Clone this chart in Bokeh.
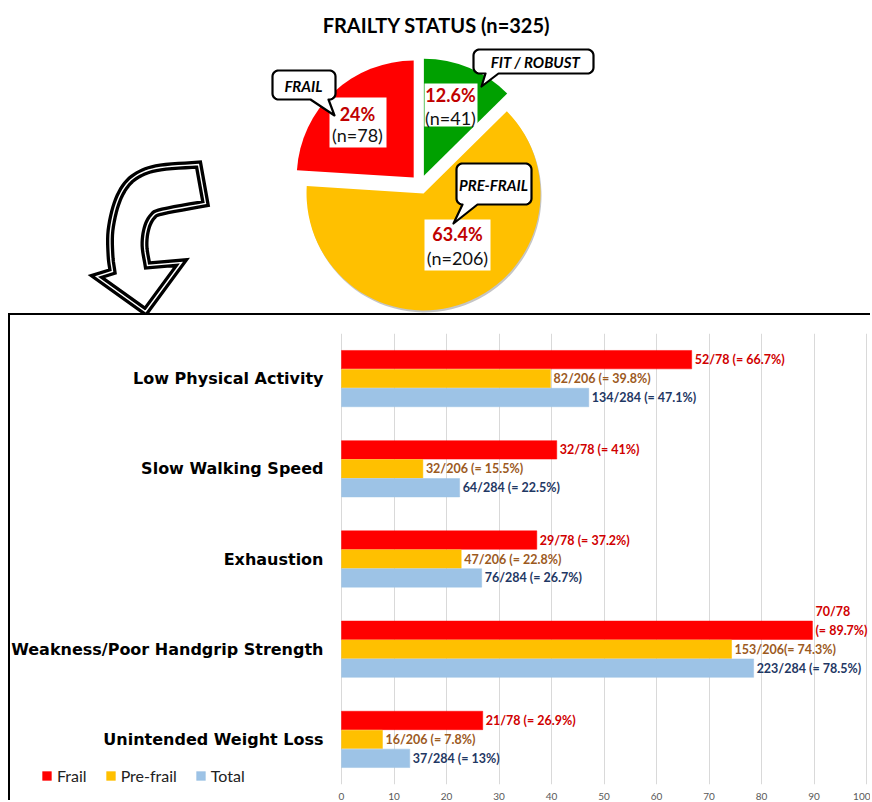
import numpy as np
from bokeh.plotting import figure
from bokeh.models import (ColumnDataSource, FactorRange, Range1d, FixedTicker,
                          Legend, LegendItem, CDSView, IndexFilter)
from bokeh.transform import dodge
from bokeh.layouts import column
from bokeh.core.properties import value
from bokeh.embed import file_html
from bokeh.resources import INLINE

# ---------------- data ----------------
pie_labels = ["FIT / ROBUST", "PRE-FRAIL", "FRAIL"]
pie_counts = [41, 206, 78]
pie_pct_text = ["12.6%", "63.4%", "24%"]
pie_n_text = ["(n=41)", "(n=206)", "(n=78)"]
pie_colors = ["#00A000", "#FFC000", "#FF0000"]
title_text = "FRAILTY STATUS (n=325)"

categories = ["Low Physical Activity", "Slow Walking Speed", "Exhaustion",
              "Weakness/Poor Handgrip Strength", "Unintended Weight Loss"]
frail_pct = [66.7, 41.0, 37.2, 89.7, 26.9]
prefrail_pct = [39.8, 15.5, 22.8, 74.3, 7.8]
total_pct = [47.1, 22.5, 26.7, 78.5, 13.0]
frail_lbl = ["52/78 (= 66.7%)", "32/78 (= 41%)", "29/78 (= 37.2%)",
             "70/78\n(= 89.7%)", "21/78 (= 26.9%)"]
prefrail_lbl = ["82/206 (= 39.8%)", "32/206 (= 15.5%)", "47/206 (= 22.8%)",
                "153/206(= 74.3%)", "16/206 (= 7.8%)"]
total_lbl = ["134/284 (= 47.1%)", "64/284 (= 22.5%)", "76/284 (= 26.7%)",
             "223/284 (= 78.5%)", "37/284 (= 13%)"]
series_names = ["Frail", "Pre-frail", "Total"]
series_colors = ["#FF0000", "#FFC000", "#9DC3E6"]
label_colors = ["#D00000", "#9C5A1E", "#1F3864"]
x_ticks = [0, 10, 20, 30, 40, 50, 60, 70, 80, 90, 100]

# ---------------- top figure (pie) ----------------
W = 872
H1 = 313


def X(rx):
    return rx


def Y(ry):
    return H1 - ry


top = figure(width=W, height=H1, x_range=Range1d(0, W), y_range=Range1d(0, H1),
             x_axis_type=None, y_axis_type=None, output_backend="svg",
             toolbar_location=None, min_border=0)
top.grid.visible = False
top.outline_line_color = None

counts = np.array(pie_counts, dtype=float)
frac = counts / counts.sum()
cum = np.concatenate([[0.0], np.cumsum(frac)])
start_a = np.pi / 2 - 2 * np.pi * cum[:-1]
end_a = np.pi / 2 - 2 * np.pi * cum[1:]
mid_a = (start_a + end_a) / 2
cx0, cy0 = X(419.7), Y(184.0)
explode = 9.5
R = 117
px = cx0 + explode * np.cos(mid_a)
py = cy0 + explode * np.sin(mid_a)
pie_src = ColumnDataSource(dict(x=px, y=py, sx=px + 1.0, sy=py - 2.0, start=start_a,
                                end=end_a, color=pie_colors))
# soft shadow under the large slice only
top.wedge(x="sx", y="sy", radius=R, radius_units="screen", start_angle="start",
          end_angle="end", direction="clock", fill_color="#7F7F7F", fill_alpha=0.45,
          line_color=None, source=pie_src, view=CDSView(filter=IndexFilter([1])))
top.wedge(x="x", y="y", radius=R, radius_units="screen", start_angle="start",
          end_angle="end", direction="clock", fill_color="color", line_color=None,
          source=pie_src)

# white label boxes and value labels (order: fit, pre-frail, frail)
box_c = [(450.5, 104.5, 53, 43), (457, 244.5, 66, 51), (357.5, 122, 57, 50)]
pct_pos = [(450, 94), (457, 233), (357, 113)]
n_pos = [(450, 117), (457, 257), (357, 134)]
top.rect(x=[X(b[0]) for b in box_c], y=[Y(b[1]) for b in box_c],
         width=[b[2] for b in box_c], height=[b[3] for b in box_c],
         fill_color="white", line_color=None)
top.text(x=[X(p[0]) for p in pct_pos], y=[Y(p[1]) for p in pct_pos], text=pie_pct_text,
         text_font=value("Lato"), text_font_style="bold", text_font_size="18px",
         text_color="#C00000", text_align="center", text_baseline="middle")
top.text(x=[X(p[0]) for p in n_pos], y=[Y(p[1]) for p in n_pos], text=pie_n_text,
         text_font=value("Lato"), text_font_size="18px",
         text_color="#111111", text_align="center", text_baseline="middle")


def bubble(x0, y0, x1, y1, tail_a, tail_b, tip, r=6, n=7):
    pts = []

    def arc(cx, cy, a0, a1):
        for t in np.linspace(a0, a1, n):
            pts.append((cx + r * np.cos(t), cy + r * np.sin(t)))
    arc(x0 + r, y0 + r, np.pi, 1.5 * np.pi)
    arc(x1 - r, y0 + r, 1.5 * np.pi, 2 * np.pi)
    arc(x1 - r, y1 - r, 0, 0.5 * np.pi)
    pts += [(tail_b, y1), tip, (tail_a, y1)]
    arc(x0 + r, y1 - r, 0.5 * np.pi, np.pi)
    return [X(p[0]) for p in pts], [Y(p[1]) for p in pts]


bubbles = [
    ((473, 49, 593, 73), (485, 498), (481, 86), (535, 61)),
    ((456, 163, 531, 204), (462, 477), (453, 223), (493, 184)),
    ((272, 70, 335, 99), (310, 328), (334, 115), (303, 85)),
]
bx, by = [], []
for (bb, base, tip, _) in bubbles:
    xs, ys = bubble(bb[0], bb[1], bb[2], bb[3], base[0], base[1], tip)
    bx.append(xs)
    by.append(ys)
top.patches(xs=bx, ys=by, fill_color="white", line_color="black", line_width=2.2,
            line_join="round")
top.text(x=[X(b[3][0]) for b in bubbles], y=[Y(b[3][1]) for b in bubbles],
         text=pie_labels, text_font=value("Lato"), text_font_style="bold italic",
         text_font_size="15px", text_color="black", text_align="center",
         text_baseline="middle")

# title
top.text(x=[X(436)], y=[Y(24)], text=[title_text], text_font=value("Lato"),
         text_font_style="bold", text_font_size="20px", text_color="black",
         text_align="center", text_baseline="middle")


# curved hollow arrow
def catmull(points, n=6):
    pts = np.array(points, dtype=float)
    ext = np.vstack([pts[0] * 2 - pts[1], pts, pts[-1] * 2 - pts[-2]])
    out = []
    for i in range(1, len(ext) - 2):
        p0, p1, p2, p3 = ext[i - 1], ext[i], ext[i + 1], ext[i + 2]
        for t in np.linspace(0, 1, n, endpoint=False):
            t2, t3 = t * t, t * t * t
            out.append(0.5 * ((2 * p1) + (-p0 + p2) * t +
                              (2 * p0 - 5 * p1 + 4 * p2 - p3) * t2 +
                              (-p0 + 3 * p1 - 3 * p2 + p3) * t3))
    out.append(pts[-1])
    return out


outer = [(198, 164), (160, 167), (140, 173), (126, 184), (116, 203), (110, 230),
         (110, 255), (112, 271)]
inner = [(205, 203), (162, 211), (152, 216), (146, 228), (144, 245), (147, 265)]
head = [(181, 262), (145, 311), (96, 276)]
poly = [outer[0]] + catmull(inner) + head + catmull(outer[::-1])
ax = [X(p[0]) for p in poly]
ay = [Y(p[1]) for p in poly]
top.patch(x=ax, y=ay, fill_color="white", line_color="black", line_width=8,
          line_join="miter")
top.patch(x=ax, y=ay, fill_alpha=0, line_color="white", line_width=1.4,
          line_join="miter")

# ---------------- bottom figure (bars) ----------------
BOX_LEFT = 10          # page x of the boxed panel's canvas
ZERO_X = 341           # page x of the value 0
PX_PER_UNIT = 5.25
W2 = W - BOX_LEFT
H2 = 802 - H1 - 2
x_start = -(ZERO_X - BOX_LEFT) / PX_PER_UNIT
x_end = (W - ZERO_X) / PX_PER_UNIT

bot = figure(width=W2, height=H2, y_range=FactorRange(*categories[::-1]),
             x_range=Range1d(x_start, x_end), y_axis_type=None,
             output_backend="svg", toolbar_location=None,
             min_border_left=0, min_border_right=0, min_border_top=18,
             min_border_bottom=0)
bot.outline_line_color = None
bot.styles = {"margin-left": "8px",
              "border-top": "2px solid black", "border-left": "2px solid black"}

src = ColumnDataSource(dict(cat=categories, frail=frail_pct, prefrail=prefrail_pct,
                            total=total_pct, fl=frail_lbl, pl=prefrail_lbl,
                            tl=total_lbl, zero=[0] * len(categories),
                            fdy=[-9 if "\n" in s else 0 for s in frail_lbl]))
offs = [0.21, 0.0, -0.21]
fields = ["frail", "prefrail", "total"]
lfields = ["fl", "pl", "tl"]
renderers = []
for off, f, c in zip(offs, fields, series_colors):
    r = bot.hbar(y=dodge("cat", off, range=bot.y_range), left=0, right=f, height=0.204,
                 fill_color=c, line_color=c, line_alpha=0.5, source=src)
    renderers.append(r)
for off, f, lf, lc in zip(offs, fields, lfields, label_colors):
    bot.text(x=f, y=dodge("cat", off, range=bot.y_range), text=lf, x_offset=3,
             y_offset=("fdy" if f == "frail" else 0), text_baseline="middle",
             text_align="left", text_font=value("Lato"), text_font_style="bold",
             text_font_size="12.5px", text_color=lc, text_line_height=1.25,
             source=src)

# category labels (left of the value axis origin)
bot.text(x="zero", y="cat", text="cat", x_offset=-18, text_align="right",
         text_baseline="middle", text_font=value("DejaVu Sans"),
         text_font_style="bold", text_font_size="16px", text_color="black",
         source=src)

bot.ygrid.visible = False
bot.xgrid.grid_line_color = "#D9D9D9"
bot.xgrid.ticker = FixedTicker(ticks=x_ticks)
bot.xaxis.ticker = FixedTicker(ticks=x_ticks)
bot.xaxis.axis_line_color = None
bot.xaxis.major_tick_line_color = None
bot.xaxis.minor_tick_line_color = None
bot.xaxis.major_label_standoff = 2
bot.xaxis.major_label_text_font = "Lato"
bot.xaxis.major_label_text_font_size = "10px"
bot.xaxis.major_label_text_color = "#595959"

legend = Legend(items=[LegendItem(label=n, renderers=[r])
                       for n, r in zip(series_names, renderers)],
                orientation="horizontal", location=(31, -1),
                glyph_width=11, glyph_height=11, label_height=14,
                label_text_font="Lato", label_text_font_size="16px",
                label_text_color="#222222", label_text_baseline="middle",
                label_standoff=5, spacing=18, padding=0, margin=0,
                border_line_color=None, background_fill_alpha=0)
bot.add_layout(legend)

open("out.html", "w").write(file_html(column(top, bot), INLINE))
